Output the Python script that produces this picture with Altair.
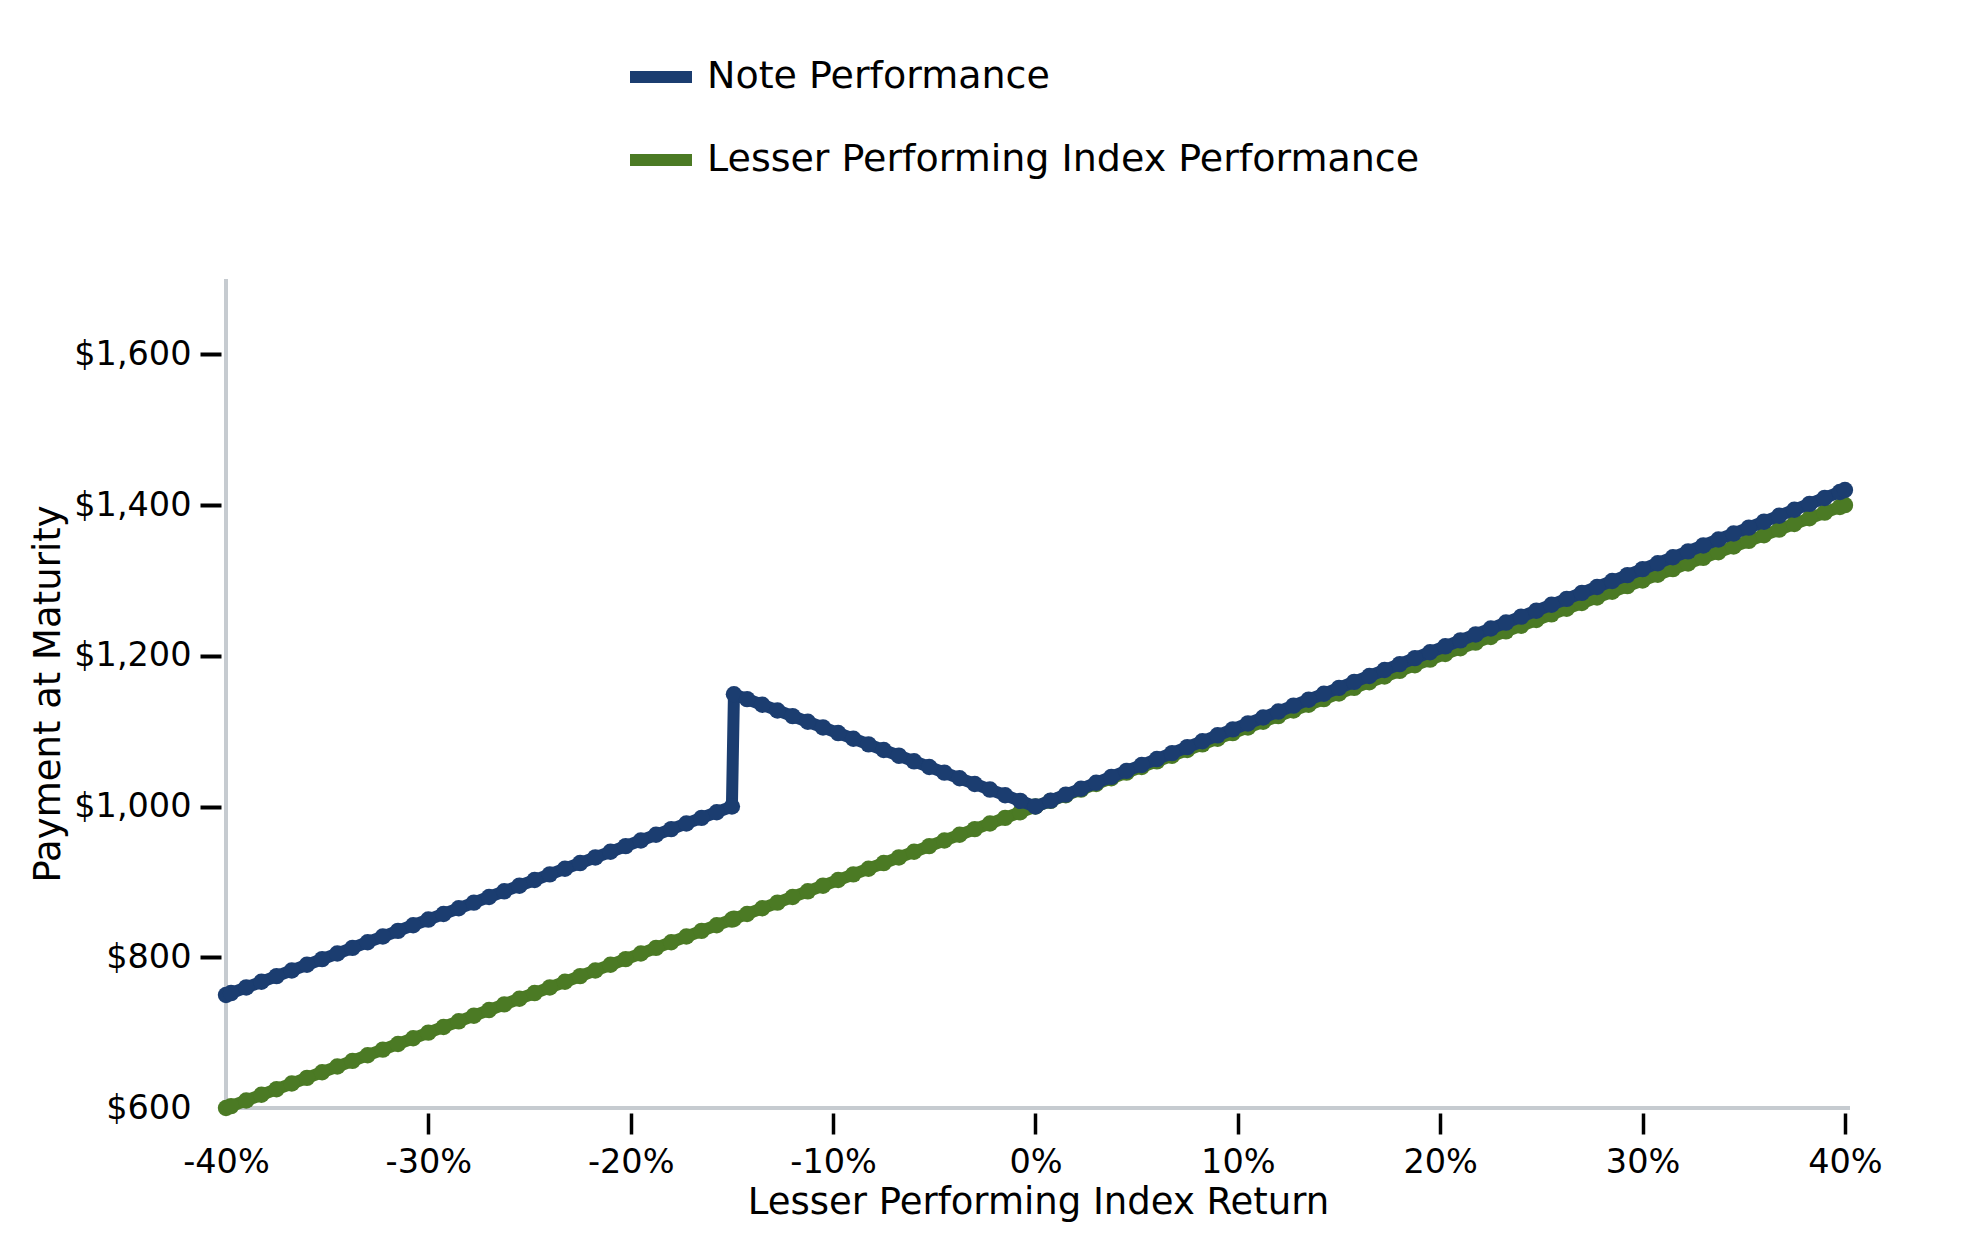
import altair as alt
import pandas as pd

# Lesser performing index return, in percent
returns_pct = [
    -40, -39.75, -39, -38.25, -37.5, -36.75, -36, -35.25, -34.5, -33.75,
    -33, -32.25, -31.5, -30.75, -30, -29.25, -28.5, -27.75, -27, -26.25,
    -25.5, -24.75, -24, -23.25, -22.5, -21.75, -21, -20.25, -19.5, -18.75,
    -18, -17.25, -16.5, -15.75, -15, -14.9, -14.25, -13.5, -12.75, -12,
    -11.25, -10.5, -9.75, -9, -8.25, -7.5, -6.75, -6, -5.25, -4.5,
    -3.75, -3, -2.25, -1.5, -0.75, 0, 0.75, 1.5, 2.25, 3,
    3.75, 4.5, 5.25, 6, 6.75, 7.5, 8.25, 9, 9.75, 10.5,
    11.25, 12, 12.75, 13.5, 14.25, 15, 15.75, 16.5, 17.25, 18,
    18.75, 19.5, 20.25, 21, 21.75, 22.5, 23.25, 24, 24.75, 25.5,
    26.25, 27, 27.75, 28.5, 29.25, 30, 30.75, 31.5, 32.25, 33,
    33.75, 34.5, 35.25, 36, 36.75, 37.5, 38.25, 39, 39.75, 40,
]

# Lesser Performing Index Performance (green)
index_payment = [
    600, 602.5, 610, 617.5, 625, 632.5, 640, 647.5, 655, 662.5,
    670, 677.5, 685, 692.5, 700, 707.5, 715, 722.5, 730, 737.5,
    745, 752.5, 760, 767.5, 775, 782.5, 790, 797.5, 805, 812.5,
    820, 827.5, 835, 842.5, 850, 851, 857.5, 865, 872.5, 880,
    887.5, 895, 902.5, 910, 917.5, 925, 932.5, 940, 947.5, 955,
    962.5, 970, 977.5, 985, 992.5, 1000, 1007.5, 1015, 1022.5, 1030,
    1037.5, 1045, 1052.5, 1060, 1067.5, 1075, 1082.5, 1090, 1097.5, 1105,
    1112.5, 1120, 1127.5, 1135, 1142.5, 1150, 1157.5, 1165, 1172.5, 1180,
    1187.5, 1195, 1202.5, 1210, 1217.5, 1225, 1232.5, 1240, 1247.5, 1255,
    1262.5, 1270, 1277.5, 1285, 1292.5, 1300, 1307.5, 1315, 1322.5, 1330,
    1337.5, 1345, 1352.5, 1360, 1367.5, 1375, 1382.5, 1390, 1397.5, 1400,
]

# Note Performance (navy)
note_payment = [
    750, 752.5, 760, 767.5, 775, 782.5, 790, 797.5, 805, 812.5,
    820, 827.5, 835, 842.5, 850, 857.5, 865, 872.5, 880, 887.5,
    895, 902.5, 910, 917.5, 925, 932.5, 940, 947.5, 955, 962.5,
    970, 977.5, 985, 992.5, 1000, 1149, 1142.5, 1135, 1127.5, 1120,
    1112.5, 1105, 1097.5, 1090, 1082.5, 1075, 1067.5, 1060, 1052.5, 1045,
    1037.5, 1030, 1022.5, 1015, 1007.5, 1000, 1007.9, 1015.8, 1023.6, 1031.5,
    1039.4, 1047.3, 1055.1, 1063, 1070.9, 1078.8, 1086.6, 1094.5, 1102.4, 1110.3,
    1118.1, 1126, 1133.9, 1141.8, 1149.6, 1157.5, 1165.4, 1173.3, 1181.1, 1189,
    1196.9, 1204.8, 1212.6, 1220.5, 1228.4, 1236.3, 1244.1, 1252, 1259.9, 1267.8,
    1275.6, 1283.5, 1291.4, 1299.3, 1307.1, 1315, 1322.9, 1330.8, 1338.6, 1346.5,
    1354.4, 1362.3, 1370.1, 1378, 1385.9, 1393.8, 1401.6, 1409.5, 1417.4, 1420,
]

series_names = ["Note Performance", "Lesser Performing Index Performance"]
series_colors = ["#1b3d70", "#4b7a24"]
x_ticks = [-40, -30, -20, -10, 0, 10, 20, 30, 40]
y_ticks = [600, 800, 1000, 1200, 1400, 1600]

FONT = "DejaVu Sans"
AXIS_GRAY = "#c6cbd0"

df_index = pd.DataFrame({"ret": returns_pct, "pay": index_payment, "series": series_names[1]})
df_note = pd.DataFrame({"ret": returns_pct, "pay": note_payment, "series": series_names[0]})
df_origin = pd.DataFrame({"ret": [x_ticks[0]], "pay": [y_ticks[0]], "series": [series_names[1]]})

x_enc = alt.X(
    "ret:Q",
    scale=alt.Scale(domain=[-40, 40.25], nice=False, zero=False),
    axis=alt.Axis(
        values=x_ticks,
        labelExpr="datum.value + '%'",
        title="Lesser Performing Index Return",
        domain=False,
        grid=False,
        offset=5,
        tickSize=21,
        tickWidth=3.5,
        tickColor="black",
        tickOpacity={"condition": {"test": "datum.value == -40", "value": 0}, "value": 1},
        labelFontSize=33.5,
        labelFont=FONT,
        labelColor="black",
        labelPadding=12,
        labelFlush=False,
        labelOverlap=False,
        titleFontSize=37,
        titleFont=FONT,
        titleFontWeight="normal",
        titleColor="black",
        titlePadding=6,
    ),
)

y_enc = alt.Y(
    "pay:Q",
    scale=alt.Scale(domain=[600, 1700], nice=False, zero=False),
    axis=alt.Axis(
        values=y_ticks,
        format="$,.0f",
        title="Payment at Maturity",
        domain=False,
        grid=False,
        offset=5,
        tickSize=21,
        tickWidth=4,
        tickColor="black",
        tickOpacity={"condition": {"test": "datum.value == 600", "value": 0}, "value": 1},
        labelFontSize=33.5,
        labelFont=FONT,
        labelColor="black",
        labelPadding=9,
        labelFlush=False,
        labelOverlap=False,
        titleFontSize=37,
        titleFont=FONT,
        titleFontWeight="normal",
        titleColor="black",
        titlePadding=6,
    ),
)

color_enc = alt.Color(
    "series:N",
    scale=alt.Scale(domain=series_names, range=series_colors),
    legend=alt.Legend(
        title=None,
        orient="none",
        legendX=398,
        legendY=-239,
        direction="vertical",
        symbolType="stroke",
        symbolStrokeWidth=12,
        symbolSize=3844,
        symbolOpacity=1,
        labelFontSize=38,
        labelFont=FONT,
        labelColor="black",
        labelOffset=9,
        rowPadding=22,
        padding=0,
        labelLimit=0,
    ),
)

rule_y_axis = alt.Chart(df_origin).mark_rule(color=AXIS_GRAY, strokeWidth=4).encode(x=x_enc)
rule_x_axis = alt.Chart(df_origin).mark_rule(color=AXIS_GRAY, strokeWidth=4).encode(y=y_enc)


def series_layer(df):
    return alt.Chart(df).mark_line(
        strokeWidth=12,
        strokeJoin="round",
        strokeCap="round",
        point=alt.OverlayMarkDef(filled=True, size=270, opacity=1),
    ).encode(x=x_enc, y=y_enc, color=color_enc)


chart = alt.layer(
    rule_y_axis, rule_x_axis, series_layer(df_index), series_layer(df_note)
).properties(
    width=1624,
    height=829,
    autosize=alt.AutoSizeParams(type="none"),
    padding={"left": 218, "top": 271, "right": 121, "bottom": 134},
    background="white",
).configure(font=FONT).configure_view(stroke="transparent", strokeWidth=0)

chart.save("out.html", embed_options={"renderer": "svg", "actions": False})
